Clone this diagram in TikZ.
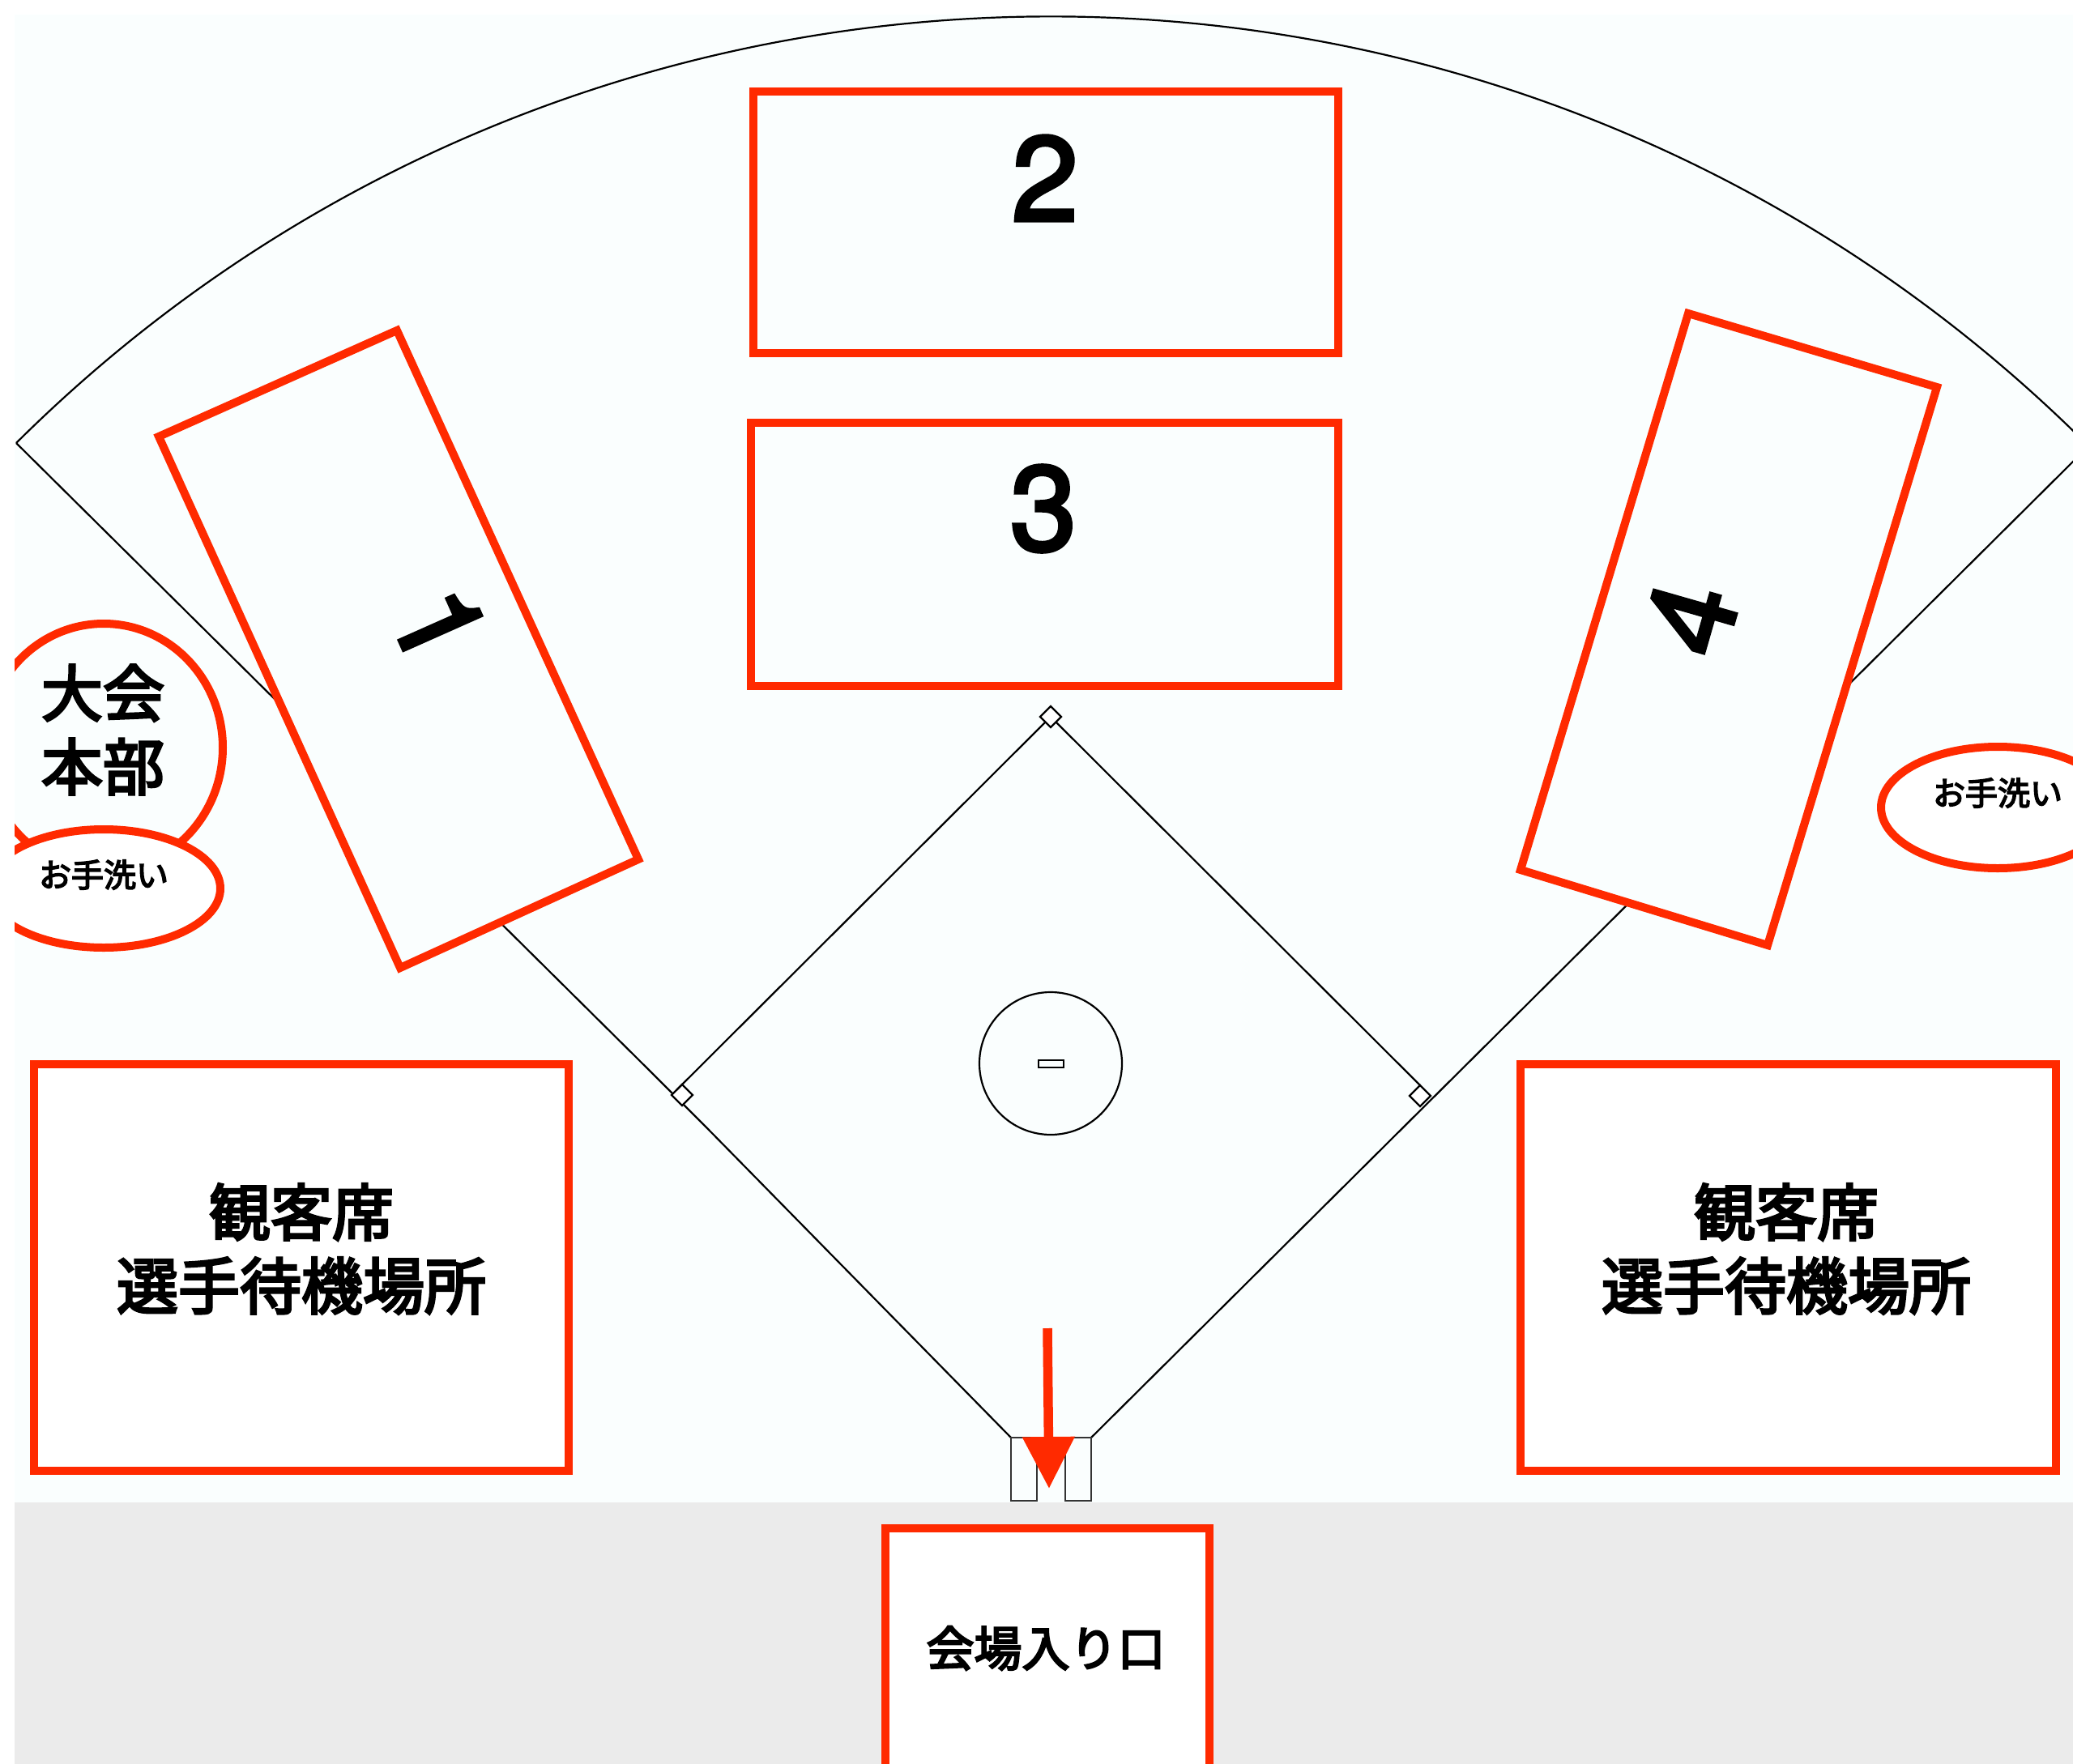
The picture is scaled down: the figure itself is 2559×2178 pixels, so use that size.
\documentclass[tikz,border=0pt]{standalone}
\usepackage{fontspec}
\usetikzlibrary{arrows.meta,shapes.geometric}
\newfontfamily\jpfont[BoldFont=*,BoldFeatures={FakeBold=4}]{Noto Sans CJK JP}
\newfontfamily\digitfont[FakeBold=3]{TeX Gyre Heros}
\definecolor{fieldc}{HTML}{FAFEFE}
\definecolor{greyc}{HTML}{EBEBEB}
\definecolor{redc}{HTML}{FF2A00}
\definecolor{boxg}{HTML}{333333}
\tikzset{
  redbox/.style={draw=redc,line width=10pt,fill=fieldc,line join=miter},
  whitebox/.style={draw=redc,line width=10pt,fill=white,line join=miter},
  thin line/.style={draw=black,line width=2.2pt},
  basemark/.style={diamond,draw=black,line width=2.2pt,fill=white,minimum width=26pt,minimum height=26pt,inner sep=0pt,outer sep=0pt},
  numlabel/.style={font={\fontsize{148}{148}\digitfont},inner sep=0pt,text=black},
  biglabel/.style={font={\fontsize{76}{91}\jpfont\bfseries},align=center,inner sep=0pt,text=black},
  smalllabel/.style={font={\fontsize{40}{48}\jpfont\bfseries},inner sep=0pt,text=black},
}
\begin{document}
\begin{tikzpicture}[x=1pt,y=-1pt]
\useasboundingbox (0,0) rectangle (2559,2178);
\fill[white] (0,0) rectangle (2559,2178);
\begin{scope}
\clip (18,18) rectangle (2559,2178);
\fill[fieldc] (18,18) rectangle (2559,1855);
\fill[greyc] (18,1855) rectangle (2559,2178);
% outfield and foul lines
\coordinate (farleft) at (20,547);
\coordinate (farright) at (2578,551);
\coordinate (homeleft) at (1248,1775);
\coordinate (homeright) at (1347,1775);
\draw[thin line] (farleft) arc[start angle=134.82,end angle=45,radius=1812pt];
\draw[thin line] (farleft) -- (800,1320) -- (873,1393) -- (homeleft);
\draw[thin line] (farright) -- (homeright);
% infield
\node[basemark] (second) at (1297,885) {};
\node[basemark] (third) at (842,1352) {};
\node[basemark] (first) at (1753,1353) {};
\draw[thin line] (second.south west) -- (third.north west);
\draw[thin line] (second.south east) -- (first.north);
\draw[thin line] (1297,1313) circle[radius=88pt];
\draw[draw=black,line width=2.8pt] (1282,1309) rectangle (1313,1318);
% batter boxes
\draw[draw=boxg,line width=2.5pt] (1248,1775) rectangle (1280,1853);
\draw[draw=boxg,line width=2.5pt] (1315,1775) rectangle (1347,1853);
% courts
\draw[redbox] (930,113) rectangle (1652,436);
\draw[redbox] (927,522) rectangle (1652,847);
\draw[redbox] (490,408) -- (196,539) -- (494,1195) -- (788,1061) -- cycle;
\draw[redbox] (2084,387) -- (2391,478) -- (2182,1167) -- (1877,1074) -- cycle;
\draw[whitebox] (42,1314) rectangle (702,1816);
\draw[whitebox] (1877,1314) rectangle (2538,1816);
\draw[whitebox] (1093,1887) rectangle (1493,2200);
% ellipses
\draw[redbox] (128,923) ellipse[x radius=147pt,y radius=153pt];
\draw[whitebox] (128,1097) ellipse[x radius=144pt,y radius=73pt];
\draw[whitebox] (2466,997) ellipse[x radius=144pt,y radius=75pt];
% arrow
\coordinate (arrowtop) at (1293,1640);
\coordinate (arrowtip) at (1295,1838);
\draw[redc,line width=11.5pt,-{Triangle[length=64pt,width=62pt]}] (arrowtop) -- (arrowtip);
% labels
\node[numlabel] (n2) at (1290,220) {2};
\node[numlabel] (n3) at (1288,628) {3};
\node[numlabel,rotate=-66] (n1) at (542,772) {1};
\node[numlabel,rotate=74] (n4) at (2087,763) {4};
\node[biglabel] (hq) at (127,901) {大会\\本部};
\node[smalllabel] (wash1) at (128,1080) {お手洗い};
\node[smalllabel] (wash2) at (2466,979) {お手洗い};
\node[biglabel] (seat1) at (372,1542) {観客席\\選手待機場所};
\node[biglabel] (seat2) at (2205,1542) {観客席\\選手待機場所};
\node[font={\fontsize{59}{70}\jpfont\bfseries},inner sep=0pt] (entry) at (1291,2035) {会場入り口};
\end{scope}
\end{tikzpicture}
\end{document}
